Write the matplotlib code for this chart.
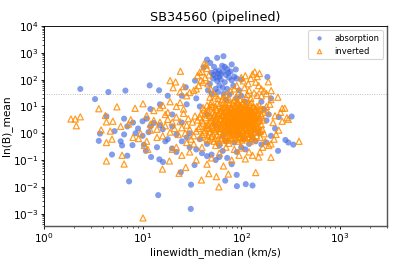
import numpy as np
import matplotlib
matplotlib.use("Agg")
import matplotlib.pyplot as plt

# ==========================================
# Data (linewidth_median, ln(B)_mean)
# ==========================================
# absorption (blue circles)
abs_pts = [
    # upper cluster
    (66, 750), (45, 560), (57, 650), (41.6, 290), (48.5, 420), (80, 370), (88, 240), (34, 92),
    (27.4, 52), (60, 130), (55, 200), (58, 170), (62, 160), (53, 300), (50, 180), (65, 200),
    (70, 150), (75, 120), (62, 100), (57, 90), (68, 80), (52, 110), (60, 60), (55, 45),
    (65, 50), (72, 45), (48, 70), (80, 95), (85, 130), (90, 110), (100, 100), (78, 200),
    (72, 250), (64, 330), (52, 150), (56, 120), (59, 220), (68, 300), (74, 180), (83, 60),
    (95, 40), (46, 40), (58, 35), (66, 30), (76, 28),
    # outliers
    (2.34, 45), (3.3, 18.8), (4.5, 34.5), (6.7, 39), (11.8, 61), (14.7, 40), (3.6, 0.52),
    (3.7, 0.97), (4.9, 0.16), (6.0, 0.5), (6.2, 0.35), (7.0, 0.145), (7.3, 0.016), (7.9, 0.36),
    (10.3, 0.37), (10.8, 0.22), (12.2, 0.13), (14.4, 0.0049), (14.8, 0.106), (16.1, 0.084),
    (19.9, 0.27), (24.4, 0.035), (31, 0.012), (30.8, 0.0015), (33.6, 0.065), (68.8, 0.017),
    (90.4, 0.0106), (89.9, 0.028), (111, 0.0126), (130, 0.0112), (337, 0.376), (236, 0.22),
    (280, 0.56), (300, 0.45), (324, 4.2), (184, 126),
    # middle band
    (4.3, 4.3), (5.2, 1.2), (6.5, 3.5), (7, 1.8), (8, 2.5), (9, 1.5), (10, 2.8), (11, 3.5),
    (12, 1.8), (13, 2.4), (6.5, 0.9), (8.5, 1.0), (10, 0.8), (11.5, 1.1), (16, 1.4), (18, 0.6),
    (20, 1.8), (22, 0.9), (25, 0.5), (28, 0.7), (30, 0.3), (35, 0.25), (40, 0.18), (45, 0.14),
    (50, 0.16), (55, 0.1), (60, 0.13), (65, 0.22), (72, 0.12), (80, 0.07), (90, 0.2), (100, 0.3),
    (110, 0.25), (120, 0.4), (140, 0.5), (160, 0.38), (180, 0.45), (200, 0.8), (220, 1.5),
    (180, 3), (170, 8), (160, 15), (200, 20), (190, 5), (240, 4), (150, 1.0), (130, 0.7),
    (105, 0.6), (85, 0.45), (70, 0.5), (60, 0.35), (45, 0.4), (38, 0.6), (30, 1.0), (25, 2.5),
    (20, 5), (15, 2.0), (17, 0.5), (22, 0.2), (14, 0.3), (38, 10), (45, 5), (55, 2), (65, 0.8),
    (75, 1.2), (95, 0.9), (115, 2), (135, 1.5), (90, 20), (100, 25), (110, 15), (70, 18),
    (50, 30), (35, 20), (25, 25), (28, 12), (18, 25), (15, 12), (12, 8),
]

# inverted (orange open triangles)
inv_pts = [
    # dense core
    (36, 3.1), (38, 1.8), (39, 5.2), (40, 0.9), (41, 2.4), (42, 7.5), (43, 1.3), (44, 3.8),
    (45, 0.6), (45, 11), (46, 2.1), (47, 4.6), (48, 1.1), (48, 8.8), (49, 2.9), (50, 0.75),
    (50, 15), (51, 3.4), (52, 1.6), (52, 6.1), (53, 0.5), (54, 2.6), (55, 9.5), (55, 1.2),
    (56, 4.1), (57, 0.85), (57, 13), (58, 2.2), (59, 5.6), (60, 1.5), (60, 0.45), (61, 3.2),
    (62, 7.2), (62, 1.9), (63, 0.65), (64, 4.8), (64, 18), (65, 2.7), (66, 1.05), (66, 10),
    (67, 3.6), (68, 0.55), (68, 6.6), (69, 2.0), (70, 1.35), (70, 12), (71, 4.3), (72, 0.8),
    (72, 8.1), (73, 2.4), (74, 1.7), (74, 5.1), (75, 0.42), (76, 3.0), (76, 14), (77, 1.15),
    (78, 6.0), (78, 2.1), (79, 0.7), (80, 9.0), (80, 3.9), (81, 1.45), (82, 0.95), (82, 5.4),
    (83, 2.6), (84, 17), (84, 1.25), (85, 7.0), (86, 3.3), (86, 0.6), (87, 4.5), (88, 1.8),
    (88, 11), (89, 2.3), (90, 0.9), (90, 6.3), (91, 3.7), (92, 1.4), (92, 13.5), (93, 0.5),
    (94, 5.0), (95, 2.0), (95, 8.4), (96, 1.1), (97, 3.1), (98, 0.75), (98, 10.5), (99, 4.2),
    (100, 1.6), (100, 2.7), (101, 6.8), (102, 0.55), (103, 2.3), (104, 15), (104, 1.2),
    (105, 4.7), (106, 3.4), (107, 0.85), (108, 7.8), (108, 1.9), (109, 2.9), (110, 12),
    (110, 0.65), (111, 5.3), (112, 1.5), (113, 3.8), (114, 9.2), (115, 2.2), (115, 1.0),
    (116, 6.1), (117, 0.7), (118, 4.4), (119, 2.6), (120, 11), (120, 1.3), (121, 3.2),
    (122, 7.3), (123, 0.5), (124, 5.6), (125, 1.8), (126, 2.5), (127, 14), (128, 0.9),
    (129, 4.0), (130, 6.5), (131, 1.4), (132, 3.0), (133, 9.8), (134, 2.0), (135, 0.6),
    (136, 5.0), (138, 1.1), (139, 3.6), (140, 8.0), (141, 2.4), (143, 0.8), (144, 4.5),
    (146, 1.6), (147, 6.9), (149, 2.9), (151, 1.2), (152, 11), (154, 3.8), (156, 0.7),
    (158, 5.4), (160, 2.1), (163, 1.4), (165, 7.6), (168, 3.1), (171, 0.95),
    (58, 20), (66, 24), (75, 19), (88, 22), (97, 18), (112, 21), (125, 20), (55, 25),
    (48, 22), (70, 28),
    # dense core, second pass
    (37, 1.5), (38, 4.0), (39, 0.7), (40, 2.9), (41, 9.0), (42, 1.1), (43, 5.5), (44, 2.0),
    (46, 0.8), (46, 6.8), (47, 1.5), (49, 3.9), (50, 1.9), (51, 10), (51, 0.95), (53, 4.5),
    (53, 1.4), (54, 0.65), (55, 3.0), (56, 7.8), (57, 1.9), (58, 0.6), (58, 4.8), (59, 2.6),
    (60, 11), (61, 1.15), (61, 6.0), (62, 3.6), (63, 1.55), (63, 8.6), (64, 0.8), (65, 2.2),
    (65, 5.1), (66, 14), (67, 1.3), (67, 3.0), (68, 9.2), (69, 0.7), (69, 4.6), (70, 2.5),
    (71, 1.7), (71, 7.4), (72, 3.4), (73, 0.55), (73, 5.8), (74, 1.05), (75, 2.9), (75, 11.5),
    (76, 1.6), (77, 4.4), (77, 0.85), (78, 8.6), (79, 2.6), (79, 1.3), (80, 5.6), (81, 0.62),
    (81, 3.2), (82, 12.5), (83, 1.7), (83, 7.0), (84, 2.4), (85, 0.8), (85, 4.1), (86, 10),
    (87, 1.45), (87, 2.9), (88, 6.0), (89, 0.95), (89, 3.9), (90, 15), (91, 1.9), (91, 8.0),
    (92, 2.8), (93, 1.15), (93, 5.2), (94, 0.7), (94, 3.5), (95, 12), (96, 1.7), (96, 6.6),
    (97, 2.3), (98, 4.7), (99, 1.0), (99, 9.5), (100, 3.4), (101, 0.62), (102, 5.8), (102, 1.9),
    (103, 13), (104, 2.8), (105, 1.35), (106, 7.0), (106, 0.8), (107, 4.2), (108, 2.2),
    (109, 10.5), (110, 1.6), (111, 3.1), (112, 6.2), (113, 0.95), (114, 2.5), (115, 4.9),
    (116, 1.2), (117, 8.5), (118, 3.0), (119, 1.7), (120, 5.7), (121, 0.75), (122, 2.4),
    (123, 12), (124, 3.6), (125, 1.2), (126, 7.0), (127, 2.0), (128, 4.6), (129, 0.65),
    (130, 2.9), (131, 9.5), (132, 1.6), (133, 5.0), (134, 3.5), (136, 1.2), (137, 7.3),
    (138, 2.3), (140, 4.0), (142, 1.4), (144, 10), (145, 2.7), (148, 5.6), (150, 1.8),
    (152, 3.4), (155, 8.0), (157, 1.2), (160, 4.5), (45, 1.6), (47, 0.55), (49, 12), (52, 2.4),
    (54, 5.3), (56, 1.6), (60, 3.4), (64, 1.45), (68, 2.9), (72, 1.4), (76, 6.8), (80, 1.9),
    (84, 3.4), (88, 1.3), (92, 4.8), (96, 2.6),
    # left of core
    (30, 1.4), (32, 2.6), (33, 0.8), (34, 4.4), (35, 1.2), (28, 2.0), (29, 3.5), (27, 1.0),
    (26, 5.5), (31, 0.6), (25, 1.6), (24, 2.7), (23, 0.9), (22, 4.0), (21, 1.5), (20, 2.6),
    (19, 1.1), (18, 3.3), (17, 1.9), (16, 0.8), (15, 2.6), (14, 1.4), (13, 3.0), (12, 2.2),
    (11, 4.5),
    # upper left plume
    (42, 390), (44, 350), (40, 200), (38, 190), (45, 260), (47, 150), (43, 120), (39, 95),
    (37, 60), (35, 45), (33, 40), (30, 33), (28, 25), (26, 55), (24, 35), (46, 70), (49, 45),
    (52, 30), (41, 80), (36, 140),
    # upper right plume
    (100, 120), (105, 90), (110, 140), (118, 70), (125, 110), (130, 160), (137, 195),
    (145, 130), (153, 170), (140, 80), (150, 60), (160, 45), (170, 38), (188, 83), (201, 39),
    (180, 30), (235, 22), (160, 25), (200, 18), (108, 50), (120, 40), (95, 35), (85, 45),
    (90, 60), (78, 38), (115, 28), (135, 32), (145, 26),
    # right side
    (276, 8.6), (300, 3.3), (290, 3.8), (260, 8.5), (250, 6.0), (220, 4.5), (210, 2.5),
    (240, 1.3), (260, 2.8), (225, 0.9), (200, 0.4), (215, 0.6), (385, 0.5), (190, 0.35),
    (175, 0.5), (180, 10), (195, 12), (185, 6), (200, 0.126), (140, 0.034), (150, 0.13),
    (130, 0.15), (165, 0.3), (155, 0.2),
    # lower
    (74, 0.030), (59.3, 0.01), (56, 0.024), (46.9, 0.031), (39.5, 0.018), (27.4, 0.053),
    (23.4, 0.032), (18.7, 0.092), (15.9, 0.046), (10.1, 0.00069), (66, 0.06), (80, 0.1),
    (95, 0.15), (110, 0.11), (120, 0.2), (60, 0.18), (50, 0.12), (45, 0.07), (35, 0.1),
    (30, 0.2), (25, 0.15), (22, 0.3), (20, 0.25), (85, 0.25), (70, 0.3), (100, 0.28),
    (40, 0.3), (55, 0.35), (33, 0.4), (28, 0.45),
    # far left
    (1.88, 3.4), (2.08, 3.4), (2.13, 1.9), (2.34, 4.1), (3.6, 8.2), (3.8, 1.33), (4.3, 0.092),
    (4.3, 0.45), (4.3, 2.65), (4.2, 4.6), (4.7, 1.2), (4.9, 0.6), (5.5, 9.7), (6.2, 0.15),
    (6.5, 0.071), (7.2, 2.2), (7.6, 3.2), (8.4, 8.5), (9.1, 0.63), (10.1, 12.6), (10.4, 0.35),
    (11.3, 0.25), (19, 92), (21.6, 82), (20.4, 50), (24.2, 205), (13, 7), (15, 9), (17, 5),
    (12, 1.3), (11, 0.5), (9.5, 1.0), (8, 0.7), (6, 1.8), (5, 2.8), (14, 0.7), (16, 11),
    (18, 6), (22, 10), (19, 15), (24, 14), (26, 8),
]

abs_x = [p[0] for p in abs_pts]
abs_y = [p[1] for p in abs_pts]
inv_x = [p[0] for p in inv_pts]
inv_y = [p[1] for p in inv_pts]

threshold = 30

# ==========================================
# Plot
# ==========================================
fig = plt.figure(figsize=(399 / 80, 266 / 80), dpi=80)
ax = fig.add_axes([0.11, 0.151, 0.86, 0.751])

ax.scatter(abs_x, abs_y, s=30, color='royalblue', alpha=0.65, edgecolors='none',
           label='absorption')
ax.scatter(inv_x, inv_y, s=30, marker='^', facecolors='none', edgecolors='darkorange',
           linewidths=1.1, alpha=0.85, label='inverted')
ax.axhline(threshold, color='grey', linestyle=':', linewidth=0.8, alpha=0.6)

ax.set_xscale('log')
ax.set_yscale('log')
ax.set_xlim(1, 3000)
ax.set_ylim(3.5e-4, 1e4)

ax.tick_params(which='major', length=2.5, pad=2, labelsize=9.5)
ax.tick_params(which='minor', length=1.5)
for side in ('right', 'bottom'):
    ax.spines[side].set_linewidth(1.3)
    ax.spines[side].set_color('#555555')

ax.set_title('SB34560 (pipelined)', fontsize=11.5, pad=5)
ax.set_xlabel('linewidth_median (km/s)', fontsize=9.5, labelpad=2)
ax.set_ylabel('ln(B)_mean', fontsize=9.5, labelpad=1)
ax.legend(loc='upper right', markerscale=0.7, fontsize=7.5)

fig.savefig('out.png', dpi=80)
